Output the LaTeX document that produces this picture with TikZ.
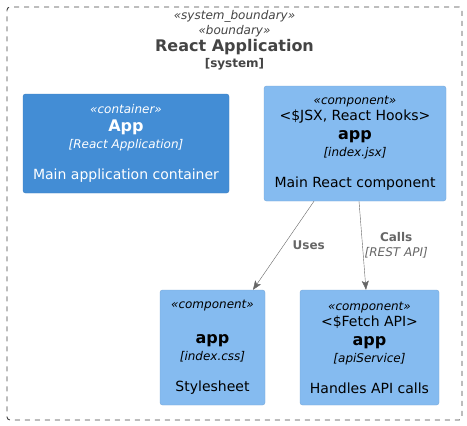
\documentclass[tikz,border=0pt]{standalone}
\usepackage{fontspec}
\setmainfont{DejaVu Sans}
\usepackage{tikz}
\usetikzlibrary{arrows.meta,shapes}
\definecolor{contblue}{HTML}{438DD5}
\definecolor{contedge}{HTML}{3C7FC0}
\definecolor{compblue}{HTML}{85BBF0}
\definecolor{compedge}{HTML}{78A8D8}
\definecolor{bndgray}{HTML}{444444}
\definecolor{relgray}{HTML}{666666}
\newcommand{\stereo}[1]{{\itshape\fontsize{12}{15}\selectfont «#1»}}
\newcommand{\elname}[1]{{\bfseries\fontsize{16}{19}\selectfont #1}}
\newcommand{\eldesc}[1]{{\fontsize{14}{17}\selectfont #1}}

\begin{document}
\begin{tikzpicture}[x=1pt,y=-1pt]
    \tikzstyle{compbox}=[rectangle, draw=compedge, fill=compblue, rounded corners=2.5pt,
    inner sep=0pt, align=center, text=black, font=\fontsize{12}{15}\selectfont]
    \tikzstyle{contbox}=[compbox, draw=contedge, fill=contblue, text=white]
    \tikzstyle{rel}=[draw=relgray, -{Stealth[length=9pt,width=7pt,inset=2pt]}]
    \tikzstyle{rellabel}=[text=relgray, align=center, anchor=west, inner sep=1pt,
    font=\fontsize{12}{15}\selectfont]
    \useasboundingbox (0,0) rectangle (467,426);

    \node[rectangle, draw=bndgray, line width=0.9pt, dash pattern=on 5pt off 5pt,
    rounded corners=3pt, minimum width=455pt, minimum height=413pt] (system)
    at (234.5,213.5) {};
    \node[anchor=north, text=bndgray, align=center, inner sep=3.5pt,
    font=\fontsize{12}{15}\selectfont] (systitle) at (system.north)
    {\stereo{system\_boundary}\\ \stereo{boundary}\\[2pt]
    \elname{React Application}\\[1.5pt] {\bfseries [system]}};

    \node[contbox, minimum width=206pt, minimum height=99pt] (app) at (126,143.5)
    {\stereo{container}\\[3pt] \elname{App}\\[2pt] {\itshape [React Application]}\\[16pt]
    \eldesc{Main application container}};
    \node[compbox, minimum width=182pt, minimum height=115pt] (jsx) at (355,143.5)
    {\stereo{component}\\[1pt] \eldesc{<\$JSX, React Hooks>}\\[4pt] \elname{app}\\[2pt]
    {\itshape [index.jsx]}\\[16pt] \eldesc{Main React component}};

    \node[compbox, minimum width=105pt, minimum height=115pt] (css) at (212.5,347.5)
    {\stereo{component}\\[1pt] \eldesc{\mbox{}}\\[4pt] \elname{app}\\[2pt]
    {\itshape [index.css]}\\[16pt] \eldesc{Stylesheet}};
    \node[compbox, minimum width=139pt, minimum height=115pt] (api) at (369.5,347.5)
    {\stereo{component}\\[1pt] \eldesc{<\$Fetch API>}\\[4pt] \elname{app}\\[2pt]
    {\itshape [apiService]}\\[16pt] \eldesc{Handles API calls}};

    \draw[rel] ([xshift=-41pt]jsx.south) -- node[rellabel, xshift=8pt] (uses)
    {\bfseries Uses} ([xshift=40.5pt]css.north);
    \draw[rel] ([xshift=4pt]jsx.south) -- node[rellabel, xshift=1pt] (calls)
    {\bfseries Calls\\ \itshape [REST API]} ([xshift=-3.5pt]api.north);

\end{tikzpicture}
\end{document}
